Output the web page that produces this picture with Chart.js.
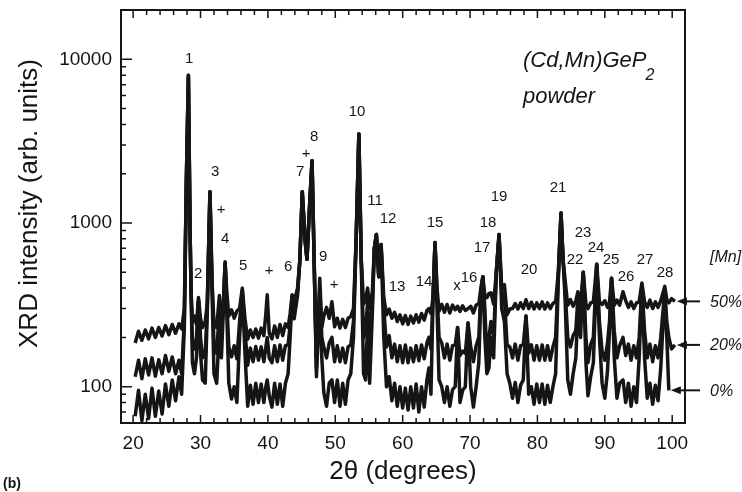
<!DOCTYPE html>
<html>
<head>
<meta charset="utf-8">
<script src="https://cdn.jsdelivr.net/npm/chart.js@4"></script>
<style>
  body { margin: 0; background: #fff; }
  #chart { display: block; }
</style>
</head>
<body>
<canvas id="chart" width="742" height="492"></canvas>
<script>
// ================== Data ==================
// 2theta positions shared by the three traces
const angles = [
  20.3, 20.8, 21.3, 21.8, 22.3, 22.8, 23.3, 23.8, 24.3, 24.8, 25.3, 25.8, 26.3, 26.8, 27.2,
  27.6, 27.9, 28.2, 28.45, 28.6, 28.8, 29.1, 29.4, 29.7, 30.0, 30.3, 30.7, 31.0, 31.4, 31.7, 32.0, 32.4, 32.8, 33.1, 33.4, 33.65, 33.9,
  34.2, 34.6, 35.0, 35.4, 35.8, 36.2, 36.6, 37.0, 37.4, 37.8, 38.2, 38.6, 39.0, 39.4, 39.7, 39.9, 40.2, 40.6, 41.0, 41.4, 41.8, 42.2, 42.6, 43.0,
  43.3, 43.6, 43.9, 44.4, 44.75, 45.1, 45.5, 45.8, 46.2, 46.55, 46.9, 47.2, 47.45, 47.7, 48.0, 48.3, 48.7, 49.1, 49.5, 49.9, 50.3, 50.7, 51.1, 51.5, 51.9, 52.3, 52.7,
  53.1, 53.5, 53.85, 54.2, 54.5, 54.8, 55.1, 55.5, 55.8, 56.1, 56.45, 56.8, 57.2, 57.6, 58.0, 58.4, 58.8, 59.2, 59.6, 60.0, 60.4, 60.8, 61.2, 61.6, 62.0, 62.4, 62.8, 63.2, 63.6, 63.9, 64.2,
  64.5, 64.8, 65.1, 65.4, 65.8, 66.2, 66.6, 67.0, 67.4, 67.8, 68.15, 68.5, 68.9, 69.3, 69.7, 70.1, 70.5, 70.9, 71.3, 71.6, 71.9, 72.2, 72.5, 72.8, 73.1, 73.5,
  73.9, 74.3, 74.7, 75.1, 75.5, 75.9, 76.3, 76.7, 77.1, 77.5, 77.9, 78.3, 78.7, 79.1, 79.5, 79.9, 80.3, 80.7, 81.1, 81.5, 81.9, 82.3, 82.7,
  83.1, 83.5, 83.8, 84.1, 84.5, 84.9, 85.3, 85.7, 86.0, 86.4, 86.8, 87.2, 87.5, 87.9, 88.3, 88.8, 89.2, 89.6, 90.0, 90.4, 90.7, 91.0, 91.4, 91.8, 92.2,
  92.7, 93.1, 93.5, 93.9, 94.3, 94.7, 95.1, 95.5, 95.9, 96.3, 96.7, 97.1, 97.5, 97.9, 98.3, 98.9, 99.2, 99.5, 99.9, 100.4
];

// [Mn] = 50%
const mn50 = [
  185, 218, 192, 222, 196, 228, 200, 230, 204, 236, 208, 240, 212, 242, 225,
  300, 1800, 7800, 900, 380, 250, 270, 240, 350, 260, 230, 250, 320, 1550, 450, 240, 230, 360, 250, 330, 580, 380,
  270, 295, 262, 290, 300, 400, 260, 195, 222, 200, 225, 198, 228, 205, 280, 365, 212, 196, 235, 200, 240, 205, 242, 230,
  280, 365, 330, 400, 600, 1550, 800, 600, 1300, 2400, 500, 150, 250, 460, 230, 270, 305, 262, 330, 232, 262, 228, 258, 230, 262, 268, 300,
  800, 3500, 600, 320, 340, 400, 300, 380, 700, 850, 470, 740, 350, 275, 298, 262, 285, 250, 275, 242, 272, 240, 270, 245, 275, 248, 280, 255, 292, 300, 280,
  350, 760, 400, 290, 318, 285, 318, 282, 315, 295, 310, 288, 312, 292, 300, 310, 282, 315, 320, 400, 470, 360, 350, 370, 375, 320,
  500, 850, 400, 420, 275, 298, 300, 322, 298, 325, 300, 340, 300, 328, 298, 325, 300, 330, 298, 325, 300, 322, 330,
  500, 1150, 600, 450, 315, 340, 310, 335, 380, 320, 500, 320, 300, 325, 330, 560, 330, 318, 335, 305, 330, 460, 315, 338, 315,
  380, 335, 305, 330, 300, 325, 330, 430, 330, 305, 338, 300, 330, 305, 335, 410, 340, 325, 345, 332
];

// [Mn] = 20%
const mn20 = [
  115, 145, 112, 148, 118, 150, 116, 146, 120, 155, 124, 152, 120, 145, 120,
  260, 1800, 8000, 900, 380, 190, 170, 200, 340, 200, 150, 160, 300, 1550, 450, 180, 160, 300, 200, 320, 570, 330,
  175, 152, 178, 148, 250, 390, 220, 135, 172, 142, 176, 145, 175, 142, 175, 200, 150, 140, 178, 142, 180, 145, 178, 180,
  240, 360, 300, 380, 600, 1550, 800, 600, 1300, 2400, 500, 130, 220, 400, 200, 175, 150, 185, 200, 142, 178, 142, 172, 140, 175, 180, 250,
  800, 3500, 600, 200, 220, 330, 180, 330, 700, 850, 470, 740, 300, 175, 205, 150, 182, 142, 178, 140, 180, 140, 172, 142, 178, 144, 180, 148, 185, 200, 170,
  340, 760, 380, 200, 185, 150, 182, 145, 178, 180, 230, 155, 165, 160, 245, 175, 142, 178, 200, 380, 470, 300, 150, 200, 250, 200,
  500, 850, 380, 350, 180, 175, 150, 182, 145, 178, 180, 270, 160, 180, 145, 178, 145, 180, 145, 178, 145, 175, 200,
  480, 1150, 600, 400, 200, 175, 205, 220, 350, 250, 500, 200, 140, 180, 200, 560, 250, 165, 145, 185, 250, 460, 220, 150, 178,
  200, 155, 182, 145, 178, 150, 200, 420, 220, 150, 182, 142, 178, 150, 200, 390, 250, 200, 170, 180
];

// [Mn] = 0%
const mn0 = [
  66, 95, 62, 90, 64, 98, 66, 94, 68, 104, 76, 110, 82, 115, 90,
  230, 1800, 8000, 900, 370, 140, 120, 150, 330, 160, 110, 105, 280, 1550, 400, 120, 105, 230, 150, 300, 560, 280,
  105, 84, 100, 80, 200, 380, 160, 76, 102, 78, 105, 80, 104, 80, 100, 110, 88, 75, 105, 78, 104, 76, 105, 120,
  200, 350, 260, 360, 600, 1550, 800, 600, 1300, 2400, 500, 115, 200, 360, 150, 92, 76, 105, 110, 80, 110, 76, 105, 78, 110, 120, 200,
  800, 3500, 600, 120, 110, 250, 105, 280, 700, 850, 470, 740, 200, 100, 115, 82, 105, 76, 100, 74, 98, 72, 100, 74, 104, 70, 100, 75, 110, 130, 90,
  330, 760, 300, 110, 100, 80, 100, 76, 96, 100, 230, 80, 95, 100, 245, 100, 75, 100, 140, 350, 470, 200, 120, 130, 200, 150,
  500, 850, 300, 250, 120, 105, 85, 106, 80, 102, 110, 270, 90, 100, 78, 104, 80, 104, 78, 102, 80, 100, 120,
  450, 1150, 600, 350, 110, 90, 120, 150, 300, 200, 500, 140, 88, 115, 140, 560, 200, 105, 85, 125, 220, 460, 150, 85, 105,
  110, 80, 105, 76, 100, 80, 150, 410, 150, 85, 105, 78, 102, 82, 130, 380, 200, 95, null, null
];

const seriesNames = ["50%", "20%", "0%"];
const xTickLabels = [20, 30, 40, 50, 60, 70, 80, 90, 100];
const yTickLabels = [100, 1000, 10000];

// peak indices and impurity marks, placed at (2theta, intensity)
const peakText = ["1", "2", "3", "+", "4", "5", "+", "6", "7", "+", "8", "9", "+", "10", "11", "12", "13", "14", "15", "x",
  "16", "17", "18", "19", "20", "21", "22", "23", "24", "25", "26", "27", "28"];
const peakAngle = [28.3, 29.64, 32.17, 33.06, 33.65, 36.32, 40.18, 43.0, 44.78, 45.67, 46.86, 48.19, 49.82, 53.23, 55.9, 57.83, 59.17, 63.18, 64.81, 68.07,
  69.85, 71.78, 72.67, 74.3, 78.75, 83.06, 85.58, 86.77, 88.69, 90.92, 93.15, 95.96, 98.93];
const peakLevel = [10000, 491, 2065, 1211, 804, 550, 512, 542, 2065, 2660, 3380, 624, 421, 4740, 1374, 1066, 409, 438, 1007, 415,
  464, 708, 1007, 1452, 520, 1648, 598, 875, 708, 598, 471, 598, 497];

const X_MIN = 18.2, X_MAX = 101.9;
const Y_MIN = 60, Y_MAX = 20000;

const FONT = "'Liberation Sans', Arial, sans-serif";
const INK = "#151515";

// tick positions: every 2 degrees, and 1..9 x decade
const xTicks = [];
for (let v = 20; v <= 100; v += 2) xTicks.push(v);
const yTicks = [];
for (let d = 10; d <= 10000; d *= 10) {
  for (let m = 1; m <= 9; m++) {
    const v = m * d;
    if (v >= Y_MIN && v <= Y_MAX) yTicks.push(v);
  }
}

function points(values) {
  return angles.map((a, i) => ({ x: a, y: values[i] }));
}

// ================== Frame, inward ticks, labels ==================
const decor = {
  id: "decor",
  afterDraw(chart) {
    const { ctx, chartArea: a, scales: { x, y } } = chart;
    ctx.save();
    ctx.strokeStyle = INK;
    ctx.fillStyle = INK;

    ctx.lineWidth = 2;
    ctx.strokeRect(a.left, a.top, a.right - a.left, a.bottom - a.top);

    ctx.lineWidth = 1.5;
    ctx.beginPath();
    x.ticks.forEach((t) => {
      const px = x.getPixelForValue(t.value);
      const len = t.value % 10 === 0 ? 8 : 5;
      ctx.moveTo(px, a.bottom);
      ctx.lineTo(px, a.bottom - len);
      ctx.moveTo(px, a.top);
      ctx.lineTo(px, a.top + len);
    });
    y.ticks.forEach((t) => {
      if (t.value >= Y_MAX) return;
      const py = y.getPixelForValue(t.value);
      const len = yTickLabels.includes(t.value) ? 11 : 5;
      ctx.moveTo(a.left, py);
      ctx.lineTo(a.left + len, py);
    });
    ctx.stroke();

    // peak numbers
    ctx.font = `15px ${FONT}`;
    ctx.textAlign = "center";
    ctx.textBaseline = "middle";
    peakText.forEach((txt, i) => {
      ctx.fillText(txt, x.getPixelForValue(peakAngle[i]), y.getPixelForValue(peakLevel[i]));
    });

    // sample name
    const fx = x.getPixelForValue(77.86);
    const fy = y.getPixelForValue(9730);
    ctx.textAlign = "left";
    ctx.font = `italic 22px ${FONT}`;
    ctx.fillText("(Cd,Mn)GeP", fx, fy);
    const w = ctx.measureText("(Cd,Mn)GeP").width;
    ctx.font = `italic 16px ${FONT}`;
    ctx.fillText("2", fx + w - 1, fy + 14);
    ctx.font = `italic 22px ${FONT}`;
    ctx.fillText("powder", fx, y.getPixelForValue(5860));

    // arrows to the end of each trace + [Mn] labels
    const lx = a.right + 25;
    ctx.font = `italic 16px ${FONT}`;
    ctx.fillText("[Mn]", lx, y.getPixelForValue(615));
    [mn50, mn20, mn0].forEach((vals, i) => {
      let last = vals.length - 1;
      while (vals[last] == null) last--;
      const px = x.getPixelForValue(angles[last]) + 2;
      const py = y.getPixelForValue(vals[last]);
      ctx.lineWidth = 2;
      ctx.beginPath();
      ctx.moveTo(px + 6, py);
      ctx.lineTo(a.right + 15, py);
      ctx.stroke();
      ctx.beginPath();
      ctx.moveTo(px, py);
      ctx.lineTo(px + 10, py - 4);
      ctx.lineTo(px + 10, py + 4);
      ctx.closePath();
      ctx.fill();
      ctx.fillText(seriesNames[i], lx, py + 1);
    });

    // axis titles
    ctx.font = `26px ${FONT}`;
    ctx.textAlign = "center";
    ctx.fillText("2\u03b8 (degrees)", (a.left + a.right) / 2, chart.height - 20);
    ctx.save();
    ctx.translate(30, (a.top + a.bottom) / 2 - 13);
    ctx.rotate(-Math.PI / 2);
    ctx.fillText("XRD intensity (arb. units)", 0, 0);
    ctx.restore();

    ctx.textAlign = "left";
    ctx.font = `bold 14px ${FONT}`;
    ctx.fillText("(b)", 3, chart.height - 8);
    ctx.restore();
  },
};

// ================== Chart ==================
new Chart(document.getElementById("chart"), {
  type: "line",
  data: {
    datasets: [mn50, mn20, mn0].map((vals, i) => ({
      label: seriesNames[i],
      data: points(vals),
      borderColor: INK,
      borderWidth: 3.5,
      borderJoinStyle: "round",
      pointRadius: 0,
      tension: 0,
      spanGaps: false,
    })),
  },
  options: {
    responsive: false,
    animation: false,
    devicePixelRatio: 1,
    layout: { padding: { top: 10, right: 57, left: 0, bottom: 0 } },
    plugins: { legend: { display: false }, tooltip: { enabled: false } },
    scales: {
      x: {
        type: "linear",
        min: X_MIN,
        max: X_MAX,
        afterBuildTicks: (s) => { s.ticks = xTicks.map((v) => ({ value: v })); },
        afterFit: (s) => { s.height = 69; s.paddingLeft = 0; s.paddingRight = 0; },
        grid: { display: false, drawTicks: false },
        border: { display: false },
        ticks: {
          autoSkip: false,
          maxRotation: 0,
          padding: 9,
          color: INK,
          font: { family: FONT, size: 19 },
          callback: (v) => (xTickLabels.includes(v) ? String(v) : ""),
        },
      },
      y: {
        type: "logarithmic",
        min: Y_MIN,
        max: Y_MAX,
        afterBuildTicks: (s) => { s.ticks = yTicks.map((v) => ({ value: v })); },
        afterFit: (s) => { s.width = 121; s.paddingTop = 0; s.paddingBottom = 0; },
        grid: { display: false, drawTicks: false },
        border: { display: false },
        ticks: {
          autoSkip: false,
          padding: 9,
          color: INK,
          font: { family: FONT, size: 19 },
          callback: (v) => (yTickLabels.includes(v) ? String(v) : ""),
        },
      },
    },
  },
  plugins: [decor],
});
</script>
</body>
</html>
